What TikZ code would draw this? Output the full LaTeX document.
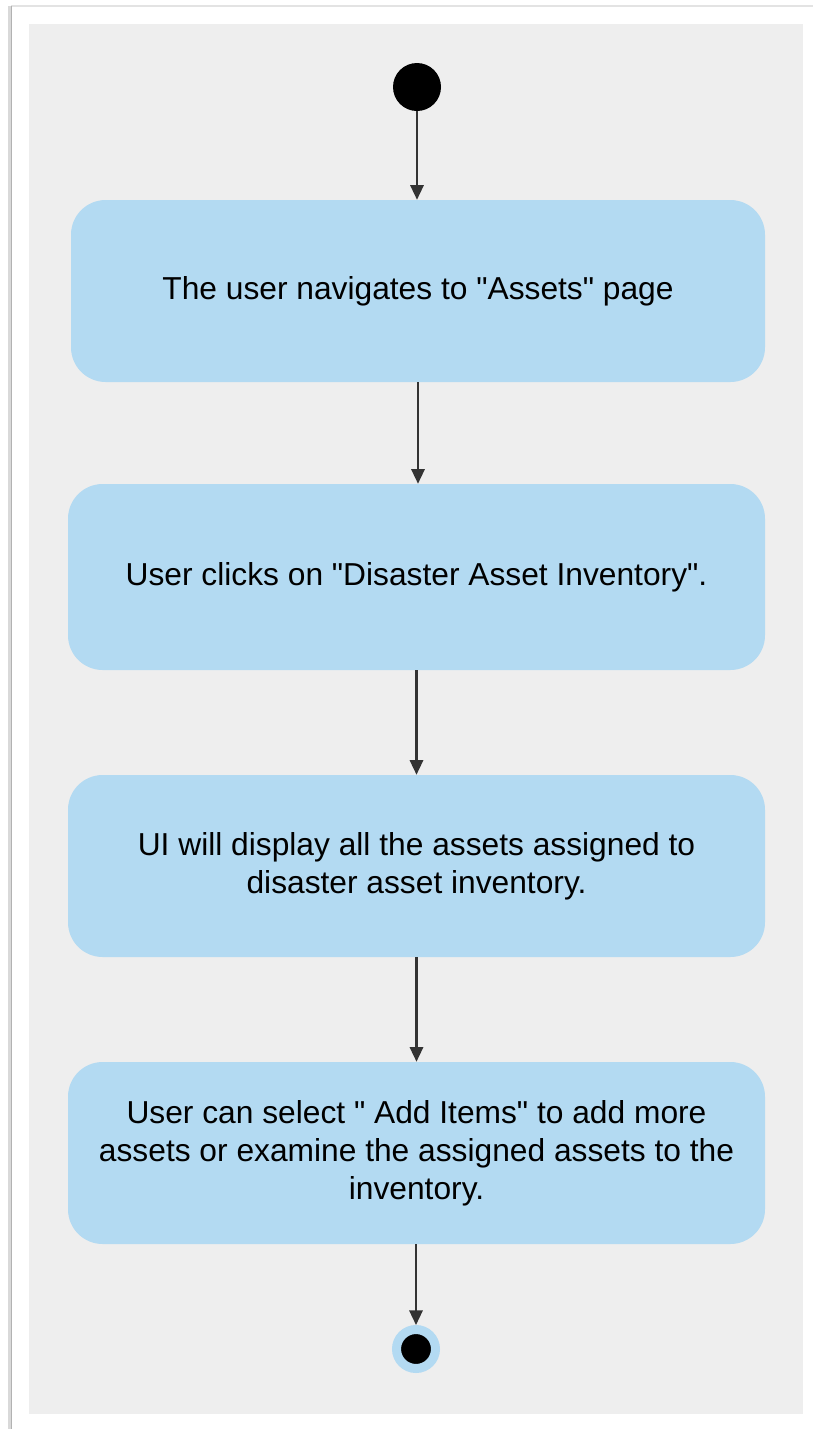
\documentclass[tikz,border=0pt]{standalone}
\usepackage{fontspec}
\setmainfont{Liberation Sans}[Ligatures=TeXOff]
\usetikzlibrary{arrows.meta}
\definecolor{panelgrey}{RGB}{238,238,238}
\definecolor{actblue}{RGB}{179,218,242}
\definecolor{flowgrey}{RGB}{51,51,51}
\tikzset{%
  activity/.style = {shape=rectangle, rounded corners=26pt,%
                     fill=actblue, align=center, inner sep=0pt,%
                     font=\fontsize{23.8pt}{28.5pt}\selectfont},%
  initial/.style  = {circle, fill=black, inner sep=0pt, minimum size=36pt},%
  final/.style    = {circle, fill=black, draw=actblue, line width=6.75pt,%
                     inner sep=0pt, minimum size=29.25pt},%
  flow/.style     = {draw=flowgrey, line width=1.7pt,%
                     -{Triangle[length=11pt,width=10pt]}}%
}
\begin{document}
\begin{tikzpicture}[x=0.75pt,y=-0.75pt]
	\useasboundingbox (0,0) rectangle (813,1429);
	\fill[white] (0,0) rectangle (813,1429);
	\draw[gray!22, line width=1.5pt] (11,6) -- (813,6);
	\draw[gray!30, line width=3pt] (10,6) -- (10,1429);
	\draw[gray!60, line width=1.2pt] (11.5,6) -- (11.5,1429);
	\fill[panelgrey] (29,24) rectangle (803,1414);
	\node[initial] (start) at (417,87) {};
	\node[activity, minimum width=520.5pt, minimum height=136.5pt] (navigate) at (418,291)
		{The user navigates to "Assets" page};
	\node[activity, minimum width=522.75pt, minimum height=139.5pt] (clicks) at (416.5,577)
		{User clicks on "Disaster Asset Inventory".};
	\node[activity, minimum width=522.75pt, minimum height=136.5pt] (display) at (416.5,866)
		{UI will display all the assets assigned to\\disaster asset inventory.};
	\node[activity, minimum width=522.75pt, minimum height=136.5pt] (select) at (416.5,1153)
		{User can select " Add Items" to add more\\assets or examine the assigned assets to the\\inventory.};
	\node[final] (stop) at (416,1349) {};
	\draw[flow] (start) -- (start |- navigate.north);
	\draw[flow] (navigate) -- (navigate |- clicks.north);
	\draw[flow] (clicks) -- (display);
	\draw[flow] (display) -- (select);
	\draw[flow] (stop |- select.south) -- (stop);
\end{tikzpicture}
\end{document}
